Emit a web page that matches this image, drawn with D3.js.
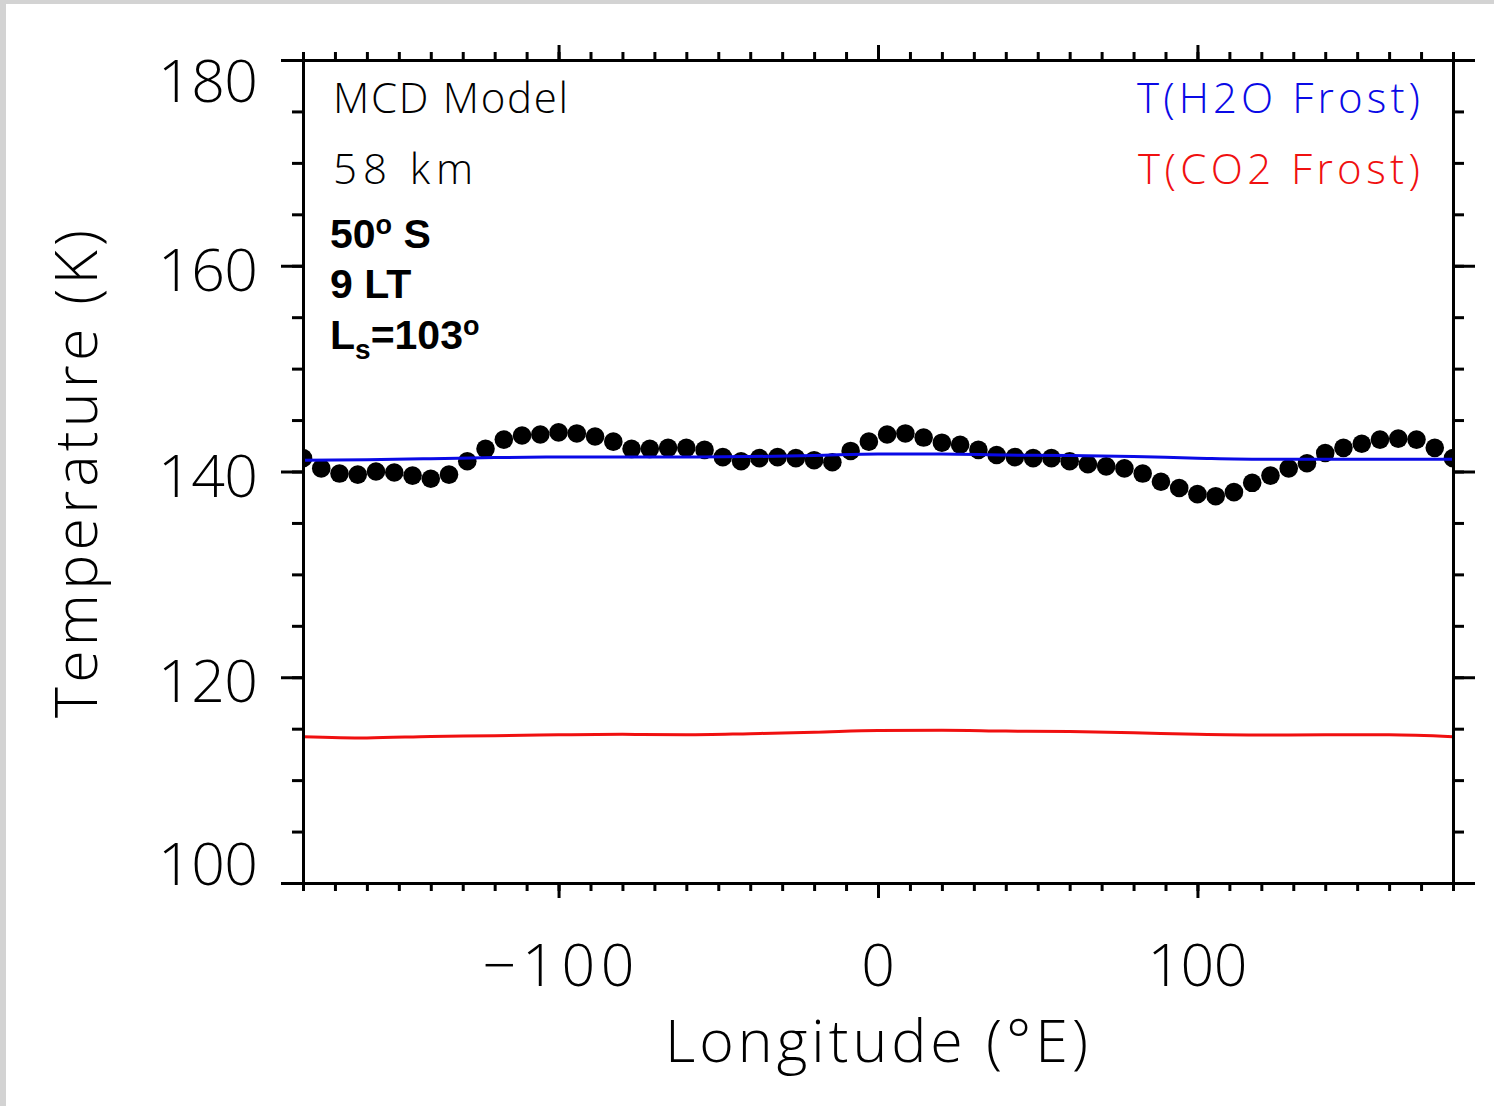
<!DOCTYPE html>
<html>
<head>
<meta charset="utf-8">
<script src="https://cdn.jsdelivr.net/npm/d3@7"></script>
<style>
  html, body { margin: 0; padding: 0; background: #ffffff; }
  svg { display: block; }
  .stroke-font { font-family: "Open Sans", "DejaVu Sans", sans-serif; font-weight: 300; }
  .bold-font { font-family: "Liberation Sans", Arial, sans-serif; font-weight: bold; }
</style>
</head>
<body>
<script>
// Longitudes of the model grid (degrees East)
const longitudes = [
  -180, -174.29, -168.57, -162.86, -157.14, -151.43, -145.71, -140,
  -134.29, -128.57, -122.86, -117.14, -111.43, -105.71, -100, -94.29,
  -88.57, -82.86, -77.14, -71.43, -65.71, -60, -54.29, -48.57,
  -42.86, -37.14, -31.43, -25.71, -20, -14.29, -8.57, -2.86,
  2.86, 8.57, 14.29, 20, 25.71, 31.43, 37.14, 42.86,
  48.57, 54.29, 60, 65.71, 71.43, 77.14, 82.86, 88.57,
  94.29, 100, 105.71, 111.43, 117.14, 122.86, 128.57, 134.29,
  140, 145.71, 151.43, 157.14, 162.86, 168.57, 174.29, 180
];

// MCD model temperature at 58 km (K)
const temperature = [
  141.3, 140.3, 139.8, 139.7, 140.0, 139.9, 139.6, 139.3,
  139.7, 141.0, 142.2, 143.1, 143.5, 143.6, 143.8, 143.7,
  143.4, 142.9, 142.2, 142.2, 142.3, 142.3, 142.1, 141.4,
  141.0, 141.3, 141.4, 141.3, 141.1, 140.9, 142.0, 142.9,
  143.6, 143.7, 143.3, 142.8, 142.6, 142.1, 141.6, 141.4,
  141.3, 141.3, 141.0, 140.7, 140.5, 140.3, 139.8, 139.0,
  138.4, 137.8, 137.6, 138.0, 138.9, 139.6, 140.3, 140.8,
  141.8, 142.3, 142.7, 143.1, 143.2, 143.1, 142.3, 141.3
];

// Frost-point curves sampled every 20 degrees
const frostLongitudes = [-180, -160, -140, -120, -100, -80, -60, -40, -20, 0,
                         20, 40, 60, 80, 100, 120, 140, 160, 180];
const h2oFrost = [141.1, 141.15, 141.25, 141.35, 141.4, 141.4, 141.4, 141.45, 141.55, 141.7,
                  141.7, 141.6, 141.55, 141.45, 141.3, 141.2, 141.2, 141.2, 141.2];
const co2Frost = [114.22, 114.1, 114.25, 114.32, 114.4, 114.45, 114.42, 114.52, 114.65, 114.82,
                  114.85, 114.77, 114.72, 114.6, 114.45, 114.38, 114.42, 114.4, 114.22];

// Axis ticks
const xMajorTicks = [-100, 0, 100];
const xMinorTicks = d3.range(-180, 181, 10);
const yMajorTicks = [100, 120, 140, 160, 180];
const yMinorTicks = d3.range(100, 181, 5);
const xTickLabels = ["\u2212100", "0", "100"];
const yTickLabels = ["100", "120", "140", "160", "180"];

const W = 1494, H = 1106;
const plot = { left: 303, right: 1453, top: 60, bottom: 883 };

const svg = d3.select("body").append("svg")
  .attr("width", W).attr("height", H);

// page frame
svg.append("rect").attr("width", W).attr("height", H).attr("fill", "#d3d3d3");
svg.append("rect").attr("x", 6).attr("y", 4).attr("width", W - 6).attr("height", H - 4).attr("fill", "#ffffff");

const x = d3.scaleLinear().domain([-180, 180]).range([plot.left, plot.right]);
const y = d3.scaleLinear().domain([100, 180]).range([plot.bottom, plot.top]);

svg.append("defs").append("clipPath").attr("id", "plot-clip")
  .append("rect")
  .attr("x", plot.left).attr("y", plot.top)
  .attr("width", plot.right - plot.left).attr("height", plot.bottom - plot.top);

const marks = svg.append("g").attr("clip-path", "url(#plot-clip)");

// temperature points
marks.selectAll("circle.temp")
  .data(longitudes.map((lon, i) => ({ lon, t: temperature[i] })))
  .join("circle")
  .attr("class", "temp")
  .attr("cx", d => x(d.lon))
  .attr("cy", d => y(d.t))
  .attr("r", 9.3)
  .attr("fill", "#000000");

const line = d3.line()
  .x(d => x(d[0]))
  .y(d => y(d[1]))
  .curve(d3.curveMonotoneX);

marks.append("path")
  .datum(frostLongitudes.map((lon, i) => [lon, h2oFrost[i]]))
  .attr("d", line)
  .attr("fill", "none")
  .attr("stroke", "#0a0ae6")
  .attr("stroke-width", 3);

marks.append("path")
  .datum(frostLongitudes.map((lon, i) => [lon, co2Frost[i]]))
  .attr("d", line)
  .attr("fill", "none")
  .attr("stroke", "#f01010")
  .attr("stroke-width", 3);

// axes: major and minor tick sets on all four sides
function styleAxis(g) {
  g.selectAll("path.domain").attr("stroke", "#000").attr("stroke-width", 3);
  g.selectAll(".tick line").attr("stroke", "#000").attr("stroke-width", 3);
  g.selectAll(".tick text").remove();
}
function addAxis(axisFn, scale, ticks, size, transform) {
  svg.append("g")
    .attr("transform", transform)
    .call(axisFn(scale).tickValues(ticks).tickSize(size).tickSizeOuter(0).tickFormat(""))
    .call(styleAxis);
}
addAxis(d3.axisBottom, x, xMinorTicks, 8, `translate(0,${plot.bottom})`);
addAxis(d3.axisBottom, x, xMajorTicks, 15, `translate(0,${plot.bottom})`);
addAxis(d3.axisTop, x, xMinorTicks, 8, `translate(0,${plot.top})`);
addAxis(d3.axisTop, x, xMajorTicks, 15, `translate(0,${plot.top})`);
addAxis(d3.axisLeft, y, yMinorTicks, 11, `translate(${plot.left},0)`);
addAxis(d3.axisLeft, y, yMajorTicks, 22, `translate(${plot.left},0)`);
addAxis(d3.axisRight, y, yMinorTicks, 11, `translate(${plot.right},0)`);
addAxis(d3.axisRight, y, yMajorTicks, 22, `translate(${plot.right},0)`);

// tick labels
const tickFont = 59;
svg.append("g").selectAll("text")
  .data(yMajorTicks)
  .join("text")
  .attr("class", "stroke-font")
  .attr("x", 258)
  .attr("y", (d) => Math.min(Math.max(y(d) + 25, plot.top + 42), plot.bottom + 2))
  .attr("text-anchor", "end")
  .attr("font-size", tickFont)
  .attr("textLength", 100).attr("lengthAdjust", "spacing")
  .attr("fill", "#000")
  .text((d, i) => yTickLabels[i]);

svg.append("g").selectAll("text")
  .data(xMajorTicks)
  .join("text")
  .attr("class", "stroke-font")
  .attr("x", d => x(d))
  .attr("y", 986)
  .attr("text-anchor", "middle")
  .attr("font-size", tickFont)
  .attr("textLength", (d, i) => xTickLabels[i].length === 4 ? 152 : (xTickLabels[i].length === 3 ? 100 : null))
  .attr("lengthAdjust", "spacing")
  .attr("fill", "#000")
  .text((d, i) => xTickLabels[i]);

// axis titles
svg.append("text")
  .attr("class", "stroke-font")
  .attr("x", 876.5).attr("y", 1062)
  .attr("text-anchor", "middle")
  .attr("font-size", tickFont)
  .attr("textLength", 423).attr("lengthAdjust", "spacing")
  .attr("fill", "#000")
  .text("Longitude (\u00b0E)");

svg.append("text")
  .attr("class", "stroke-font")
  .attr("transform", "translate(97,474) rotate(-90)")
  .attr("text-anchor", "middle")
  .attr("font-size", tickFont)
  .attr("textLength", 488).attr("lengthAdjust", "spacing")
  .attr("fill", "#000")
  .text("Temperature (K)");

// annotations inside the plot
function strokeText(txt, xPos, yPos, len, color, anchor) {
  svg.append("text")
    .attr("class", "stroke-font")
    .attr("x", xPos).attr("y", yPos)
    .attr("text-anchor", anchor || "start")
    .attr("font-size", 42)
    .attr("textLength", len).attr("lengthAdjust", "spacing")
    .attr("fill", color)
    .text(txt);
}
strokeText("MCD Model", 333, 113, 235, "#000");
strokeText("58 km", 333, 184, 140, "#000");
strokeText("T(H2O Frost)", 1420, 113, 283, "#0a0ae6", "end");
strokeText("T(CO2 Frost)", 1420, 184, 282, "#f01010", "end");

const bold = svg.append("g").attr("class", "bold-font").attr("font-size", 41).attr("fill", "#000");
const lat = bold.append("text").attr("x", 330).attr("y", 248);
lat.append("tspan").text("50");
lat.append("tspan").attr("font-size", 27).attr("dy", -14).text("o");
lat.append("tspan").attr("dy", 14).text(" S");

bold.append("text").attr("x", 330).attr("y", 298).text("9 LT");

const ls = bold.append("text").attr("x", 330).attr("y", 349);
ls.append("tspan").text("L");
ls.append("tspan").attr("font-size", 28).attr("dy", 10).text("s");
ls.append("tspan").attr("dy", -10).text("=103");
ls.append("tspan").attr("font-size", 27).attr("dy", -14).text("o");
</script>
</body>
</html>
